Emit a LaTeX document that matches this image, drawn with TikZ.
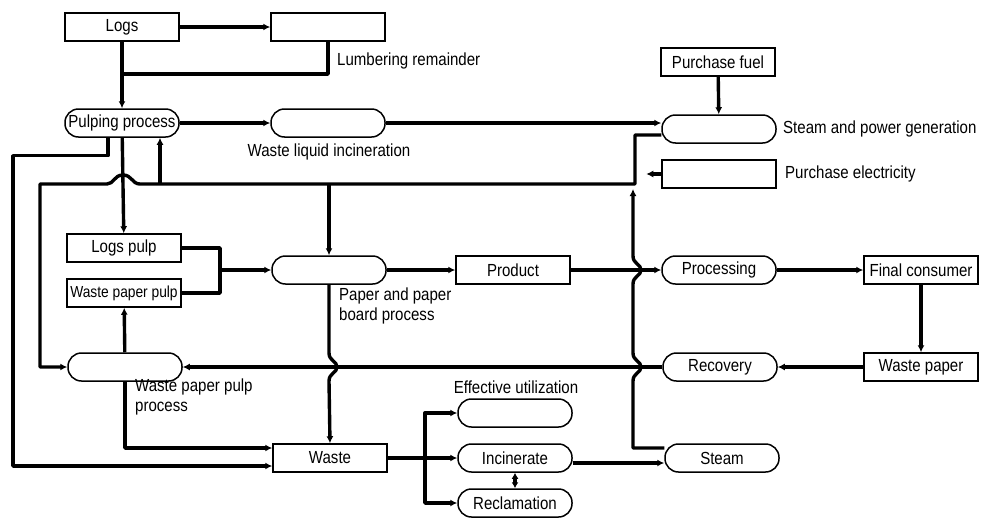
\documentclass[tikz,border=0pt]{standalone}
\usepackage{fontspec}
\setmainfont{Liberation Sans}[FakeStretch=0.86]
\usetikzlibrary{arrows.meta}
\tikzstyle{box}=[draw, line width=1.5pt, minimum width=114pt, minimum height=28pt, inner sep=2pt]
\tikzstyle{pill}=[box, rounded corners=13.5pt]
\tikzstyle{lbl}=[inner sep=0pt, align=left]
\tikzstyle{line}=[line width=3.4pt, line join=round]
\tikzstyle{flow}=[line, -{Latex[length=7pt,width=7pt]}]

\begin{document}
\begin{tikzpicture}[x=1pt, y=-1pt, font=\fontsize{17.5}{20}\selectfont]
  \useasboundingbox (0,0) rectangle (982,517);
  % top rows
  \node [box] (logs) at (122,27) {Logs};
  \node [box] (lumber) at (328,27) {};
  \node [lbl, anchor=west] (lumberlbl) at (337,61) {Lumbering remainder};
  \node [box] (fuel) at (718,62) {Purchase fuel};
  \node [pill] (pulp) at (122,123) {Pulping process};
  \node [pill] (wli) at (328,123) {};
  \node [lbl] (wlilbl) at (329,152) {Waste liquid incineration};
  \node [pill] (spg) at (719,129) {};
  \node [lbl, anchor=west] (spglbl) at (783,129) {Steam and power generation};
  \node [box] (elec) at (719,174) {};
  \node [lbl, anchor=west] (eleclbl) at (785,174) {Purchase electricity};
  % middle rows
  \node [box] (logspulp) at (124,248) {Logs pulp};
  \node [box, font=\fontsize{16}{19}\selectfont] (wppulp) at (124,293) {Waste paper pulp};
  \node [pill] (ppb) at (329,270) {};
  \node [lbl, anchor=north west] (ppblbl) at (339,288) {Paper and paper\\board process};
  \node [box] (product) at (513,270) {Product};
  \node [pill] (proc) at (719,270) {Processing};
  \node [box] (final) at (921,270) {Final consumer};
  \node [pill] (wppp) at (125,367) {};
  \node [lbl, anchor=north west] (wppplbl) at (135,379) {Waste paper pulp\\process};
  \node [pill] (recov) at (720,367) {Recovery};
  \node [box] (wpaper) at (921,367) {Waste paper};
  % bottom rows
  \node [lbl] (efflbl) at (516,387) {Effective utilization};
  \node [pill] (eff) at (515,413) {};
  \node [box] (waste) at (330,458) {Waste};
  \node [pill] (incin) at (515,458) {Incinerate};
  \node [pill] (steam) at (722,458) {Steam};
  \node [pill] (recl) at (515,503) {Reclamation};

  \coordinate (j1) at (122,74);
  \coordinate (j2) at (220,270);
  \coordinate (j3) at (425,458);
  \coordinate (b1) at (160,184);

  % logs and pulping
  \draw [flow] (logs) -- (lumber);
  \draw [line] (lumber.south) |- (j1);
  \draw [flow] (logs) -- (pulp);
  \draw [flow] (pulp) -- (wli);
  \draw [flow] (wli.east) -- (wli.east -| spg.west);
  \draw [flow] (fuel) -- (spg);
  \draw [flow] (elec.west) -- ([xshift=-15pt]elec.west);
  \draw [flow] (pulp) -- (logspulp);
  \draw [flow] ([xshift=-14pt]pulp.south) -- ++(0,18) -| (13,466)
    -- (waste.west |- 0,466);

  % steam and power distribution
  \draw [flow] ([yshift=-6pt]spg.west) -| (635,184) -- (140,184)
    .. controls (132,184) and (132,175) .. (123,175)
    .. controls (114,175) and (114,184) .. (107,184)
    -| (40,367) -- (wppp.west);
  \draw [flow] (b1) -- (b1 |- pulp.south);
  \draw [flow] (ppb.north |- b1) -- (ppb.north);

  % pulp to paper
  \draw [line] (logspulp.east) -| (j2);
  \draw [line] (wppulp.east) -| (j2);
  \draw [flow] (j2) -- (ppb);
  \draw [flow] (ppb) -- (product);
  \draw [flow] (product) -- (proc);
  \draw [flow] (proc) -- (final);
  \draw [flow] (final) -- (wpaper);
  \draw [flow] (wpaper) -- (recov);
  \draw [flow] (recov) -- (wppp);
  \draw [flow] (wppp) -- (wppulp);
  \draw [flow] (wppp.south) |- ([yshift=10pt]waste.west);
  \draw [flow] (ppb.south) -- (329,353)
    .. controls (329,361) and (337,361) .. (337,367)
    .. controls (337,373) and (329,373) .. (329,381) -- (waste.north);

  % steam return line
  \draw [flow] ([yshift=10pt]steam.west) -| (633,381)
    .. controls (633,373) and (641,373) .. (641,367)
    .. controls (641,361) and (633,361) .. (633,353) -- (633,284)
    .. controls (633,276) and (641,276) .. (641,270)
    .. controls (641,264) and (633,264) .. (633,256) -- (633,189);

  % waste treatment
  \draw [line] (waste) -- (j3);
  \draw [flow] (j3) |- (eff.west);
  \draw [flow] (j3) -- (incin);
  \draw [flow] (j3) |- (recl.west);
  \draw [line, {Latex[length=6pt,width=7pt]}-{Latex[length=6pt,width=7pt]}] (incin) -- (recl);
  \draw [flow] ([yshift=-5pt]incin.east) -- ([yshift=-5pt]incin.east -| steam.west);
\end{tikzpicture}
\end{document}
